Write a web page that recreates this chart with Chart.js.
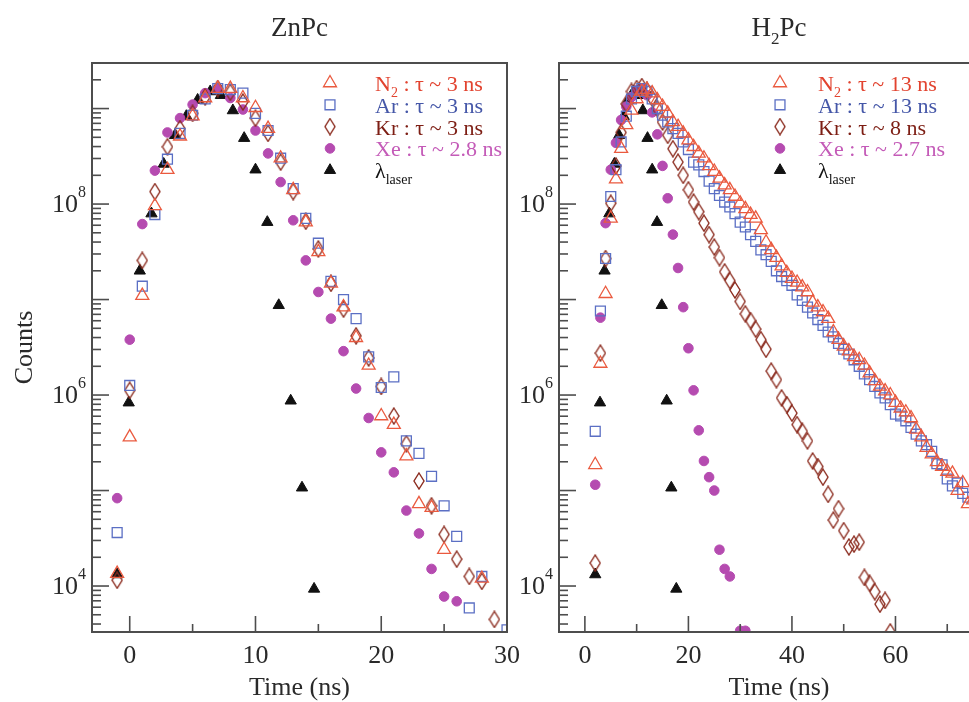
<!DOCTYPE html>
<html>
<head>
  <meta charset="UTF-8">
  <script src="https://cdn.jsdelivr.net/npm/chart.js"></script>
  <style>
    body { margin: 0; background: #fff; overflow: hidden; width: 969px; height: 702px; position: relative; }
    canvas { position: absolute; top: 0; }
    #znChart { left: 0; }
    #h2Chart { left: 505px; }
  </style>
</head>
<body>
  <canvas id="znChart" width="535" height="702"></canvas>
  <canvas id="h2Chart" width="520" height="702"></canvas>
  <script>
    // ---- ZnPc (left panel), counts ----
    const znTime = [-1, 0, 1, 2, 3, 4, 5, 6, 7, 8, 9, 10, 11, 12, 13, 14, 15, 16, 17, 18, 19, 20, 21, 22, 23, 24, 25, 26, 27, 28, 29, 30];
    const znN2 = [1.35e4, 3.63e5, 1.10e7, 9.55e7, 2.29e8, 5.13e8, 8.32e8, 1.29e9, 1.62e9, 1.62e9, 1.29e9, 1.02e9, 6.17e8, 3.02e8, 1.41e8, 6.46e7, 3.16e7, 1.48e7, 8.32e6, 3.98e6, 2.04e6, 6.03e5, 4.90e5, 2.29e5, 7.24e4, 6.61e4, 2.40e4, null, null, 1.20e4, null, null];
    const znAr = [3.63e4, 1.26e6, 1.38e7, 7.76e7, 2.95e8, 5.50e8, 8.51e8, 1.26e9, 1.62e9, 1.58e9, 1.45e9, 8.91e8, 5.89e8, 3.02e8, 1.45e8, 7.08e7, 3.89e7, 1.55e7, 1.00e7, 6.31e6, 2.51e6, 1.20e6, 1.55e6, 3.31e5, 2.45e5, 1.41e5, 6.92e4, 3.31e4, 5.89e3, 1.26e4, null, 3.47e3];
    const znKr = [1.15e4, 1.12e6, 2.57e7, 1.35e8, 3.98e8, 6.17e8, 8.91e8, 1.32e9, 1.62e9, 1.48e9, 1.17e9, 7.94e8, 5.50e8, 2.75e8, 1.35e8, 6.61e7, 3.39e7, 1.48e7, 7.94e6, 4.17e6, 2.45e6, 1.23e6, 6.03e5, 3.09e5, 1.26e5, 6.92e4, 3.47e4, 1.91e4, 1.26e4, 1.12e4, 4.47e3, null];
    const znXe = [8.32e4, 3.80e6, 6.17e7, 2.24e8, 5.62e8, 7.94e8, 1.10e9, 1.45e9, 1.62e9, 1.29e9, 9.77e8, 5.89e8, 3.39e8, 1.70e8, 6.76e7, 2.57e7, 1.20e7, 6.31e6, 2.88e6, 1.17e6, 5.75e5, 2.51e5, 1.55e5, 6.17e4, 3.55e4, 1.51e4, 7.76e3, 6.92e3, null, null, null, null];
    const znLaserTime = [-1, -0.08, 0.8, 1.73, 2.7, 3.6, 4.5, 5.4, 6.4, 7.25, 8.2, 9.1, 10.0, 10.94, 11.85, 12.8, 13.7, 14.66];
    const znLaser = [1.32e4, 8.32e5, 2.00e7, 7.94e7, 2.63e8, 5.25e8, 8.32e8, 1.23e9, 1.51e9, 1.38e9, 9.55e8, 4.90e8, 2.29e8, 6.46e7, 8.71e6, 8.71e5, 1.07e5, 9.33e3];
    const znLegend = ['N|2| : τ ~ 3 ns', 'Ar : τ ~ 3 ns', 'Kr : τ ~ 3 ns', 'Xe : τ ~ 2.8 ns', 'λ|laser|'];

    // ---- H2Pc (right panel) ----
    const h2N2Time = [2, 3, 4, 5, 6, 7, 8, 9, 10, 11, 12, 13, 14, 15, 16, 17, 18, 19, 20, 21, 22, 23, 24, 25, 26, 27, 28, 29, 30, 31, 32, 33, 34, 35, 36, 37, 38, 39, 40, 41, 42, 43, 44, 45, 46, 47, 48, 49, 50, 51, 52, 53, 54, 55, 56, 57, 58, 59, 60, 61, 62, 63, 64, 65, 66, 67, 68, 69, 70, 71, 72, 73, 74, 75];
    const h2N2 = [1.86e5, 2.14e6, 1.15e7, 7.08e7, 1.82e8, 3.80e8, 6.76e8, 9.55e8, 1.26e9, 1.51e9, 1.58e9, 1.45e9, 1.23e9, 1.05e9, 8.91e8, 7.24e8, 6.46e8, 5.50e8, 4.68e8, 3.98e8, 3.39e8, 3.02e8, 2.51e8, 2.19e8, 1.86e8, 1.58e8, 1.41e8, 1.20e8, 1.02e8, 8.91e7, 7.76e7, 7.08e7, 5.37e7, 3.98e7, 3.31e7, 2.75e7, 2.24e7, 1.91e7, 1.66e7, 1.51e7, 1.35e7, 1.20e7, 9.33e6, 8.32e6, 7.41e6, 6.31e6, 4.57e6, 3.80e6, 3.24e6, 2.88e6, 2.51e6, 2.34e6, 2.04e6, 1.70e6, 1.41e6, 1.23e6, 1.10e6, 1.00e6, 8.32e5, 7.24e5, 6.61e5, 5.75e5, 4.37e5, 3.63e5, 2.82e5, 2.40e5, 2.00e5, 1.78e5, 1.58e5, 1.51e5, 1.00e5, 1.20e5, 7.24e4, 7.94e4];
    const h2ArTime = [2, 3, 4, 5, 6, 7, 8, 9, 10, 11, 12, 13, 14, 15, 16, 17, 18, 19, 20, 21, 22, 23, 24, 25, 26, 27, 28, 29, 30, 31, 32, 33, 34, 35, 36, 37, 38, 39, 40, 41, 42, 43, 44, 45, 46, 47, 48, 49, 50, 51, 52, 53, 54, 55, 56, 57, 58, 59, 60, 61, 62, 63, 64, 65, 66, 67, 68, 69, 70, 71, 72, 73, 74];
    const h2Ar = [4.17e5, 7.59e6, 2.69e7, 1.20e8, 2.29e8, 4.47e8, 8.32e8, 1.26e9, 1.51e9, 1.62e9, 1.51e9, 1.26e9, 1.00e9, 8.51e8, 7.24e8, 6.17e8, 5.50e8, 4.47e8, 3.72e8, 2.75e8, 2.57e8, 2.19e8, 1.74e8, 1.45e8, 1.23e8, 1.05e8, 9.33e7, 7.94e7, 6.46e7, 5.75e7, 4.79e7, 4.07e7, 3.31e7, 2.95e7, 2.51e7, 2.00e7, 1.74e7, 1.58e7, 1.41e7, 1.12e7, 9.77e6, 8.32e6, 7.24e6, 6.17e6, 5.37e6, 4.57e6, 4.07e6, 3.47e6, 3.02e6, 2.69e6, 2.34e6, 2.00e6, 1.66e6, 1.45e6, 1.23e6, 1.05e6, 9.33e5, 7.94e5, 6.31e5, 6.03e5, 5.37e5, 4.57e5, 3.89e5, 3.31e5, 3.02e5, 2.57e5, 1.91e5, 1.86e5, 1.32e5, 1.12e5, 1.20e5, 9.33e4, 8.51e4];
    const h2KrTime = [2, 3, 4, 5, 6, 7, 8, 9, 10, 11, 12, 13, 14, 15, 16, 17, 18, 19, 20, 21, 22, 23, 24, 25, 26, 27, 28, 29, 30, 31, 32, 33, 34, 35, 36, 37, 38, 39, 40, 41, 42, 43, 44, 45, 46, 47, 48, 49, 50, 51, 52, 53, 54, 55, 56, 57, 58, 59];
    const h2Kr = [1.74e4, 2.75e6, 2.69e7, 1.02e8, 2.51e8, 5.62e8, 1.12e9, 1.51e9, 1.62e9, 1.70e9, 1.55e9, 1.29e9, 1.00e9, 7.24e8, 5.25e8, 3.80e8, 2.75e8, 2.00e8, 1.41e8, 1.05e8, 8.32e7, 6.31e7, 4.79e7, 3.55e7, 2.75e7, 1.95e7, 1.58e7, 1.26e7, 9.55e6, 7.08e6, 6.03e6, 4.90e6, 3.80e6, 3.02e6, 1.78e6, 1.45e6, 9.33e5, 7.94e5, 6.46e5, 4.90e5, 4.17e5, 3.31e5, 2.04e5, 1.78e5, 1.38e5, 9.12e4, 4.90e4, 6.46e4, 3.80e4, 2.57e4, 2.75e4, 2.88e4, 1.23e4, 1.07e4, 8.71e3, 6.46e3, 7.08e3, 3.31e3];
    const h2XeTime = [2, 3, 4, 5, 6, 7, 8, 9, 10, 11, 12, 13, 14, 15, 16, 17, 18, 19, 20, 21, 22, 23, 24, 25, 26, 27, 28, 30, 31];
    const h2Xe = [1.15e5, 6.46e6, 6.31e7, 2.29e8, 4.37e8, 7.59e8, 1.05e9, 1.32e9, 1.55e9, 1.62e9, 1.38e9, 9.12e8, 5.37e8, 2.51e8, 1.15e8, 4.79e7, 2.14e7, 8.32e6, 3.09e6, 1.12e6, 4.27e5, 2.04e5, 1.38e5, 1.00e5, 2.40e4, 1.51e4, 1.26e4, 3.4e3, 3.4e3];
    const h2LaserTime = [2, 2.92, 3.8, 4.73, 5.7, 6.6, 7.5, 8.4, 9.4, 10.25, 11.2, 12.1, 13.0, 13.94, 14.85, 15.8, 16.7, 17.66];
    const h2Laser = [1.32e4, 8.32e5, 2.00e7, 7.94e7, 2.63e8, 5.25e8, 8.32e8, 1.23e9, 1.51e9, 1.38e9, 9.55e8, 4.90e8, 2.29e8, 6.46e7, 8.71e6, 8.71e5, 1.07e5, 9.33e3];
    const h2Legend = ['N|2| : τ ~ 13 ns', 'Ar : τ ~ 13 ns', 'Kr : τ ~ 8 ns', 'Xe : τ ~ 2.7 ns', 'λ|laser|'];

    const textColors = ['#e2432f', '#4557a8', '#7d1e14', '#c45bb8', '#111'];
    const FONT = '"Liberation Serif", "DejaVu Serif", serif';
    const AXIS = '#4d4d4d';
    const INK = '#2a2a2a';

    function pairs(times, vals) {
      const out = [];
      times.forEach((t, i) => { if (vals[i] != null) out.push({ x: t, y: vals[i] }); });
      return out;
    }

    function diamondImage(color) {
      const c = document.createElement('canvas');
      c.width = 12; c.height = 18;
      const g = c.getContext('2d');
      g.strokeStyle = color; g.lineWidth = 1.4;
      g.beginPath();
      g.moveTo(6, 1); g.lineTo(11, 9); g.lineTo(6, 17); g.lineTo(1, 9);
      g.closePath(); g.stroke();
      return c;
    }
    const krDiamond = diamondImage('#8b2b1e');

    function styles() {
      return [
        { pointStyle: 'triangle', pointRadius: 7.5, borderColor: '#ea5a3f', backgroundColor: 'rgba(0,0,0,0)', borderWidth: 1.3 },
        { pointStyle: 'rect', pointRadius: 7, borderColor: '#5b6fc4', backgroundColor: 'rgba(0,0,0,0)', borderWidth: 1.3 },
        { pointStyle: krDiamond, pointRadius: 8, borderColor: '#8b2b1e', backgroundColor: 'rgba(0,0,0,0)', borderWidth: 1.3 },
        { pointStyle: 'circle', pointRadius: 4.8, borderColor: '#b54bb0', backgroundColor: '#b54bb0', borderWidth: 1 },
        { pointStyle: 'triangle', pointRadius: 6.5, borderColor: '#111', backgroundColor: '#111', borderWidth: 1 }
      ];
    }

    // text with |sub| parts
    function drawRich(ctx, str, x, y, size, color) {
      const parts = str.split('|');
      ctx.fillStyle = color;
      ctx.textAlign = 'left';
      ctx.textBaseline = 'alphabetic';
      parts.forEach((p, i) => {
        const sub = i % 2 === 1;
        ctx.font = (sub ? Math.round(size * 0.62) : size) + 'px ' + FONT;
        ctx.fillText(p, x, y + (sub ? size * 0.28 : 0));
        x += ctx.measureText(p).width;
      });
      return x;
    }
    function richWidth(ctx, str, size) {
      let w = 0;
      str.split('|').forEach((p, i) => {
        ctx.font = (i % 2 === 1 ? Math.round(size * 0.62) : size) + 'px ' + FONT;
        w += ctx.measureText(p).width;
      });
      return w;
    }

    const panelDecor = {
      id: 'panelDecor',
      afterDraw(chart, args, o) {
        const ctx = chart.ctx;
        const a = chart.chartArea;
        const xs = chart.scales.x, ys = chart.scales.y;
        ctx.save();
        ctx.strokeStyle = AXIS;
        ctx.lineWidth = 2;
        ctx.strokeRect(a.left, a.top, a.right - a.left, a.bottom - a.top);

        // y ticks, inward
        ctx.lineWidth = 1.6;
        for (let e = 3; e <= 9; e++) {
          for (let m = 1; m <= 9; m++) {
            const v = m * Math.pow(10, e);
            if (v < ys.min || v > ys.max) continue;
            const py = ys.getPixelForValue(v);
            const len = m === 1 ? 17 : 9;
            ctx.beginPath(); ctx.moveTo(a.left, py); ctx.lineTo(a.left + len, py); ctx.stroke();
          }
        }
        // x ticks, inward
        for (let v = Math.ceil(xs.min / o.xMinor) * o.xMinor; v <= xs.max + 1e-9; v += o.xMinor) {
          const px = xs.getPixelForValue(v);
          const len = v % o.xMajor === 0 ? 16 : 8;
          ctx.beginPath(); ctx.moveTo(px, a.bottom); ctx.lineTo(px, a.bottom - len); ctx.stroke();
          if (v % o.xMajor === 0) {
            ctx.fillStyle = INK;
            ctx.font = '26px ' + FONT;
            ctx.textAlign = 'center';
            ctx.textBaseline = 'middle';
            ctx.fillText(String(v), px, a.bottom + 24);
          }
        }
        // y labels 10^n
        o.yLabels.forEach(e => {
          const py = ys.getPixelForValue(Math.pow(10, e));
          ctx.font = '16px ' + FONT;
          const sw = ctx.measureText(String(e)).width;
          const xr = a.left - 6 - sw;
          ctx.fillStyle = INK;
          ctx.textAlign = 'left';
          ctx.textBaseline = 'middle';
          ctx.fillText(String(e), xr, py - 11);
          ctx.font = '26px ' + FONT;
          ctx.textAlign = 'right';
          ctx.fillText('10', xr, py + 1);
        });
        // axis titles
        ctx.fillStyle = INK;
        ctx.font = '26px ' + FONT;
        ctx.textAlign = 'center';
        ctx.textBaseline = 'middle';
        ctx.fillText('Time (ns)', (a.left + a.right) / 2, a.bottom + 56);
        if (o.yTitle) {
          ctx.save();
          ctx.translate(25, (a.top + a.bottom) / 2);
          ctx.rotate(-Math.PI / 2);
          ctx.fillText(o.yTitle, 0, 0);
          ctx.restore();
        }
        // panel title
        const tw = richWidth(ctx, o.title, 27);
        drawRich(ctx, o.title, (a.left + a.right) / 2 - tw / 2, 36, 27, INK);

        // legend
        const st = styles();
        o.legend.forEach((label, i) => {
          const y = o.legendY + i * 21.8;
          const s = st[i];
          ctx.fillStyle = s.backgroundColor;
          ctx.strokeStyle = s.borderColor;
          ctx.lineWidth = s.borderWidth;
          Chart.helpers.drawPoint(ctx, { pointStyle: s.pointStyle, radius: s.pointRadius, borderWidth: s.borderWidth, rotation: 0 }, o.markerX, y);
          drawRich(ctx, label, o.textX, y + 8, 22, textColors[i]);
        });
        ctx.restore();
      }
    };

    function makePanel(id, pad, xMin, xMax, sets, decor) {
      const st = styles();
      const labels = ['N2', 'Ar', 'Kr', 'Xe', 'laser'];
      new Chart(document.getElementById(id), {
        type: 'scatter',
        data: {
          datasets: sets.map((d, i) => Object.assign({ label: labels[i], data: d, showLine: false }, st[i]))
        },
        options: {
          responsive: false,
          animation: false,
          devicePixelRatio: 1,
          layout: { padding: pad },
          plugins: { legend: { display: false }, tooltip: { enabled: false }, panelDecor: decor },
          scales: {
            x: { type: 'linear', min: xMin, max: xMax, bounds: 'data', display: false },
            y: { type: 'logarithmic', min: 3.3e3, max: 3e9, bounds: 'data', display: false }
          }
        },
        plugins: [panelDecor]
      });
    }

    makePanel('znChart', { left: 92, top: 63, right: 28, bottom: 70 }, -3, 30, [
      pairs(znTime, znN2), pairs(znTime, znAr), pairs(znTime, znKr), pairs(znTime, znXe), pairs(znLaserTime, znLaser)
    ], { title: 'ZnPc', yTitle: 'Counts', xMajor: 10, xMinor: 5, yLabels: [4, 6, 8], legend: znLegend, legendY: 83, markerX: 330, textX: 375 });

    makePanel('h2Chart', { left: 54, top: 63, right: 26, bottom: 70 }, -5, 80, [
      pairs(h2N2Time, h2N2), pairs(h2ArTime, h2Ar), pairs(h2KrTime, h2Kr), pairs(h2XeTime, h2Xe), pairs(h2LaserTime, h2Laser)
    ], { title: 'H|2|Pc', yTitle: null, xMajor: 20, xMinor: 10, yLabels: [4, 6, 8], legend: h2Legend, legendY: 83, markerX: 275, textX: 313 });
  </script>
</body>
</html>
